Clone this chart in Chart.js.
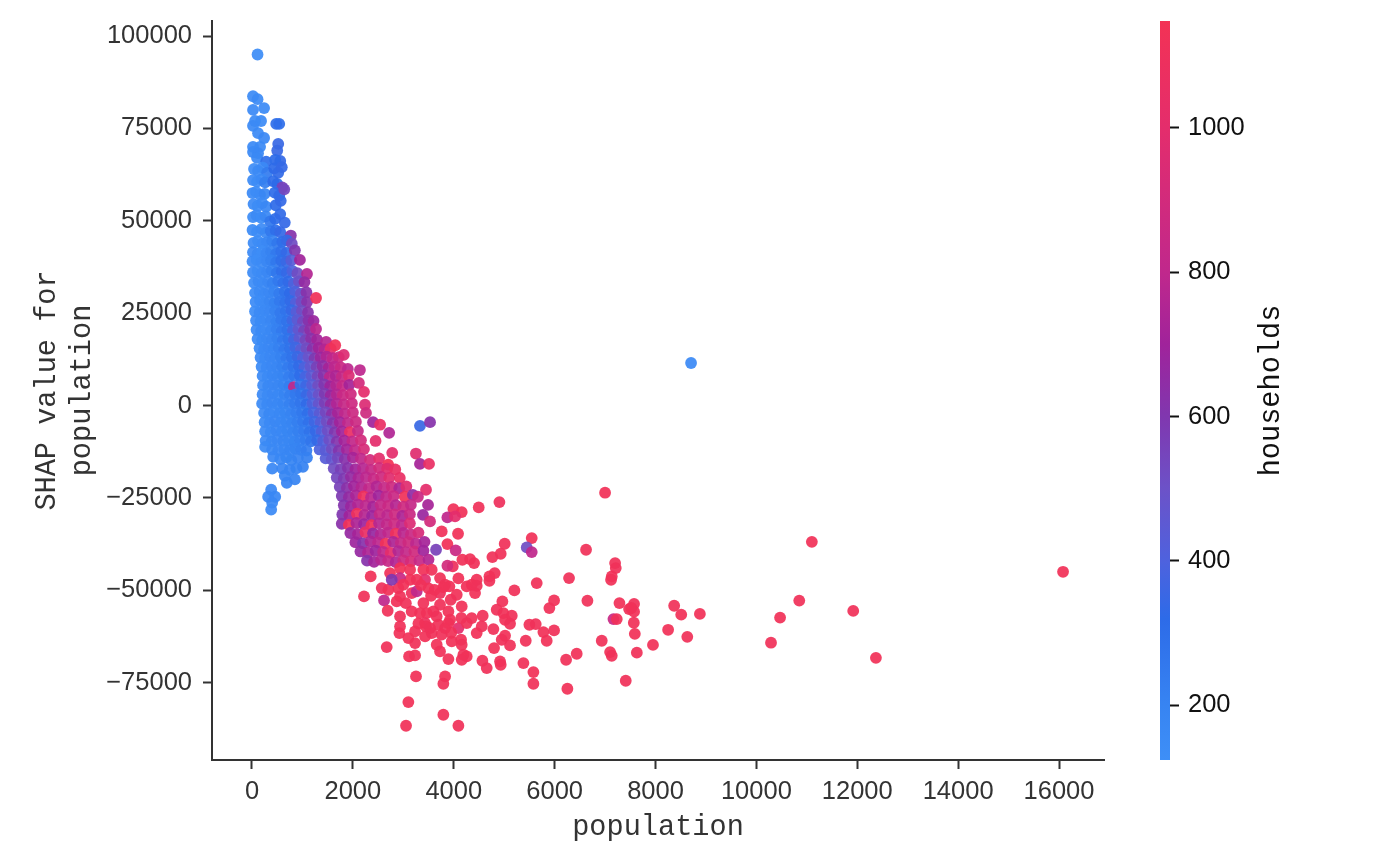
<!DOCTYPE html>
<html>
<head>
<meta charset="utf-8">
<title>SHAP dependence plot</title>
<script src="https://cdn.jsdelivr.net/npm/chart.js@4/dist/chart.umd.min.js"></script>
<style>
body{margin:0;background:#fff;overflow:hidden}
#wrap{position:relative;width:1376px;height:866px}
canvas{position:absolute;top:0;filter:blur(0.5px)}
#myChart{left:0}
#colorBar{left:1130px}
</style>
</head>
<body>
<div id="wrap">
<canvas id="myChart" width="1130" height="866"></canvas>
<canvas id="colorBar" width="246" height="866"></canvas>
</div>
<script>
const xTicks = [0,2000,4000,6000,8000,10000,12000,14000,16000]
const yTicks = [-75000,-50000,-25000,0,25000,50000,75000,100000]
const barTicks = [200,400,600,800,1000]
const barRange = [124,1148]

// each line below is one read-off row, the three arrays line up row by row
const population = [
110,20,110,20,240,180,60,20,480,540,120,240,520,20,160,500,20,120,560,460,100,280,
40,120,210,300,440,520,590,
20,100,190,260,420,500,600,
10,80,160,250,450,540,640,
30,110,200,280,470,570,
20,90,180,270,360,460,560,650,
10,100,190,280,370,470,560,770,
30,120,210,300,400,500,600,690,790,
20,110,200,290,380,480,580,680,850,
10,90,190,290,380,480,580,680,780,950,
20,110,200,300,390,490,590,690,800,900,1090,
40,130,220,320,410,520,620,720,830,930,1040,
60,150,240,340,440,540,650,750,860,970,1080,
70,160,250,350,450,550,660,760,870,980,1090,1270,
60,150,250,350,460,560,670,780,880,990,1110,
80,170,270,370,480,580,690,800,900,1010,1120,1220,
90,180,280,380,490,590,700,810,920,1030,1150,1270,
110,200,300,400,500,610,720,830,940,1060,1170,1290,1470,
150,240,330,430,530,640,750,860,970,1080,1200,1320,1440,1560,1650,
170,260,360,460,570,680,790,900,1010,1120,1240,1360,1480,1600,1720,1820,
190,290,390,490,600,710,820,930,1040,1160,1280,1400,1520,1640,1760,1900,2140,
210,310,410,510,620,730,840,950,1060,1180,1300,1420,1540,1660,1780,1920,
220,320,420,520,630,740,830,960,1070,1190,1310,1430,1550,1670,1790,1930,2120,
210,310,410,520,640,750,860,970,1080,1200,1320,1440,1560,1680,1800,1960,2220,
200,300,400,510,620,740,850,960,1080,1200,1320,1440,1560,1680,1820,1980,2240,
240,340,440,550,660,770,880,990,1100,1220,1340,1460,1580,1700,1840,2000,2260,
250,350,460,570,680,790,900,1010,1120,1240,1360,1480,1600,1740,1900,2060,2400,
260,370,480,590,700,810,920,1030,1140,1260,1380,1500,1640,1780,1940,2100,2720,
270,390,500,620,730,840,950,1060,1170,1290,1410,1530,1680,1830,1990,2160,2450,
260,400,520,640,750,860,970,1080,1340,1460,1580,1720,1880,2040,2220,2780,
420,560,680,780,910,1090,1460,1580,1700,1840,2000,2160,2340,2520,2700,
400,600,750,880,1010,1620,1760,1900,2050,2200,2360,2520,2680,2840,
650,690,850,1680,1820,1960,2110,2260,2410,2560,2720,2930,
380,400,380,320,460,
1740,1880,2020,2170,2320,2470,2620,2770,2920,3060,3450,
1780,1920,2060,2210,2360,2510,2660,2810,3030,3190,3290,
1820,1960,2100,2250,2400,2550,2700,2850,3000,3150,3490,
1790,1930,2080,2230,2380,2530,2680,2830,2980,3130,3390,
1780,1920,2070,2220,2370,2520,2670,2820,2970,3130,
1950,2100,2250,2400,2550,2700,2850,3000,3150,3300,
2050,2200,2350,2500,2650,2800,2950,3100,3250,3420,
2150,2300,2450,2600,2750,2900,3050,3220,3400,
2280,2420,2560,2700,2850,3000,3150,3320,3500,
7000,4905,4495,3993,4158,3874,4026,5546,5010,5447,5546,6623,
4766,4931,4085,3874,4039,3649,3761,3530,4323,4403,4171,3980,
3874,7199,7212,7133,7119,6286,5645,4812,4707,4707,4092,4455,
4356,4257,4422,4455,5202,3827,3913,3728,4059,3940,4158,4964,
4852,4984,5150,5017,5116,5989,5896,6650,7285,7476,7166,7232,
4574,4356,4555,4786,5500,5625,5777,5989,5843,5427,5017,4951,
5116,4799,6934,7100,7132,6438,6227,5381,5579,4918,4931,4568,
4654,3894,4191,4257,4158,3662,3728,4145,4158,3960,2671,3114,
3233,3828,3794,3252,5579,6253,7410,3100,3794,3054,4092,16080,
12370,11920,11100,10850,10470,10290,8705,8250,8370,8510,8630,8880,
7950,7630,7590,7570,7575,7575,7520,3330,3530,3250,3330,3510,
2353,2221,2572,2704,2618,2690,2902,2935,2869,3166,2935,3166,
3398,3332,3728,3894,3596,3464,3431,3662,3927,3695,3530,3828,
4092,2935,2922,3233,3100,3233,3431,3563,3894,4257,4455,2737,
2935,3134,3398,3563,3134,3431,3266,2935,2770,3728,3795,3266,
2540,3500,3620,3350,3000,3050,3550,3450,3300,3760,3950,4150
]
const shapValue = [
95000,83700,82900,80000,80500,77000,77000,75700,76200,76200,73700,72400,70800,70000,70000,69000,68600,68300,66200,66500,67000,66000,
64000,63500,64400,63000,64200,63000,64500,
61000,60600,61200,60400,60700,60000,59000,
57500,57800,57000,57300,57600,56800,58500,
54500,54000,54800,53800,54200,55400,
51000,51500,50800,51200,49800,50500,51800,49500,
47500,47000,47800,46800,47200,47400,46900,46000,
44000,44500,43800,44200,44600,43900,44300,44700,43800,
41500,41000,41800,41200,41600,41100,41700,41300,42000,
39000,39400,38700,39100,39300,38800,39200,38900,39300,39400,
36000,36400,35800,36200,36500,35900,36300,36000,36400,35800,35600,
33200,33600,33000,33500,33100,33700,33200,33500,33000,33600,33400,
30500,30800,30200,30600,30900,30300,30700,30400,30800,30300,30600,
28000,28300,27700,28100,27800,28200,27900,28300,27800,28100,28000,29100,
25500,25200,25700,25300,25600,25100,25500,25800,25300,25600,25200,
23000,22800,23200,22900,22700,23100,22800,23000,23200,22700,23000,22900,
20500,20200,20700,20400,20600,20100,20500,20300,20600,20200,20500,20700,
18000,17700,18200,17900,18100,17600,18000,17800,18200,17700,18100,17800,17200,
15500,15200,15700,15300,15600,15100,15400,15700,15200,15500,15300,15600,15200,15400,16300,
13000,12800,13200,12900,13100,12700,13000,13200,12800,13100,12700,13000,13200,12800,13100,13700,
10500,10300,10700,10400,10600,10200,10500,10700,10300,10600,10400,10700,10200,10500,10300,9900,9600,
8000,7800,8200,7900,8100,7700,8000,8200,7800,8100,7900,8200,7700,8000,7800,8100,
5500,5300,5700,5400,5600,5200,5000,5700,5300,5600,5400,5700,5200,5500,5300,5600,6100,
3000,2800,3200,2900,3100,2700,3000,3200,2800,3100,2900,3200,2700,3000,2800,3100,3700,
500,300,700,400,600,200,500,700,300,600,400,700,200,500,300,600,200,
-2000,-2300,-1800,-2100,-1900,-2400,-2000,-1800,-2300,-1900,-2200,-1800,-2400,-2000,-2200,-1900,-2000,
-4500,-4700,-4300,-4600,-4400,-4800,-4500,-4300,-4700,-4400,-4600,-4300,-4800,-4500,-4700,-4400,-4500,
-7000,-7200,-6800,-7100,-6900,-7300,-7000,-6800,-7200,-6900,-7100,-6800,-7300,-7000,-7200,-6900,-7400,
-9500,-9700,-9300,-9600,-9400,-9800,-9500,-9300,-9700,-9400,-9600,-9300,-9800,-9500,-9700,-9400,-9600,
-11200,-11900,-12200,-11800,-12100,-11700,-12000,-12200,-11900,-12100,-11800,-12200,-11900,-12100,-11800,-12800,
-13900,-14500,-14000,-14800,-14100,-14100,-14300,-14600,-14200,-14500,-14100,-14400,-14700,-14300,-16000,
-17100,-17000,-17400,-17000,-16600,-17000,-17300,-16900,-17200,-17000,-17400,-16900,-17100,-17300,
-19000,-20900,-20000,-19500,-19800,-19300,-19600,-19400,-19800,-19300,-19600,-19600,
-22800,-26300,-28200,-24700,-24700,
-22000,-22300,-21800,-22100,-22400,-21900,-22200,-22000,-22400,-21900,-22800,
-24500,-24800,-24300,-24600,-24900,-24400,-24700,-24500,-24700,-24200,-24700,
-27000,-27300,-26800,-27100,-27400,-26900,-27200,-27000,-27400,-26900,-26900,
-29500,-29800,-29300,-29600,-29900,-29400,-29700,-29500,-29900,-29400,-29600,
-32000,-32300,-31800,-32100,-32400,-31900,-32200,-32000,-32400,-31900,
-34500,-34800,-34300,-34600,-34900,-34400,-34700,-34500,-34900,-34400,
-37000,-37300,-36800,-37100,-37400,-36900,-37200,-37000,-37400,-36900,
-39500,-39800,-39300,-39600,-39900,-39400,-39700,-39500,-39300,
-42000,-42300,-41800,-42100,-42400,-41900,-42200,-42000,-41700,
-23600,-26140,-27590,-28040,-28850,-30290,-30020,-35890,-37420,-38400,-39670,-39040,
-41030,-40120,-34710,-37500,-39220,-39040,-34080,-31380,-41570,-42650,-41750,-43550,
-43370,-42650,-44000,-46260,-47160,-46700,-48060,-45360,-46260,-47430,-46800,-47160,
-48510,-48960,-50770,-48780,-50050,-48510,-48960,-50770,-51220,-52570,-54380,-53020,
-55280,-56180,-56900,-57980,-59070,-52750,-54830,-52840,-53470,-55100,-57800,-57800,
-56900,-57530,-59790,-60510,-59340,-59160,-61320,-60870,-63670,-63670,-62310,-63400,
-64930,-65650,-63670,-66730,-67730,-67180,-68810,-69710,-72150,-69260,-70160,-69080,
-71060,-68630,-67460,-67910,-68810,-64750,-66550,-63400,-64750,-63850,-65380,-67910,
-67630,-73320,-75300,-73320,-75300,-76660,-74490,-80260,-83690,-86670,-86670,-45000,
-68300,-55600,-36900,-52800,-57400,-64200,11500,-60700,-54200,-56600,-62600,-56400,
-64800,-66900,-61800,-58800,-55800,-53700,-54800,-5500,-4500,-13000,-15800,-15800,
-46260,-51670,-49420,-49870,-52750,-55550,-49420,-51670,-53020,-50770,-57080,-55730,
-53470,-56180,-53920,-55730,-55730,-56180,-58890,-57080,-57980,-59340,-60240,-60240,
-60240,-59790,-61600,-61140,-62950,-64300,-62490,-61600,-58890,-58890,-61600,-45360,
-44000,-44450,-44450,-44450,-47160,-47160,-47160,-46710,-47160,-46710,-49140,-50320,
-5200,-49500,-49900,-48600,-48500,-53500,-51500,-59800,-59000,-62000,-61500,-57500
]
const households = [
140,150,150,160,150,150,155,160,300,300,160,170,350,160,160,350,160,170,340,320,165,300,
140,150,160,240,320,330,340,
150,140,160,220,310,320,560,
160,145,150,180,310,330,540,
150,140,150,170,320,340,
140,150,145,170,260,310,330,340,
155,140,150,165,250,300,340,620,
150,140,150,170,210,260,300,340,520,
160,150,140,170,210,250,290,340,600,
150,140,150,170,210,260,300,350,430,700,
150,140,150,170,210,260,300,340,400,520,760,
140,150,150,170,210,250,290,330,400,500,660,
145,150,160,170,200,240,280,320,400,490,620,
150,145,150,180,210,250,280,330,420,520,620,1120,
140,150,160,170,210,250,280,340,430,520,620,
150,155,160,180,210,250,280,360,450,540,620,680,
150,160,150,175,215,250,280,380,470,560,640,780,
150,155,165,180,210,250,280,370,460,550,630,700,770,
150,160,170,185,215,250,280,360,440,520,620,700,760,1000,1130,
160,150,170,180,210,250,280,350,420,490,590,680,750,800,860,960,
150,160,170,180,210,240,270,330,400,470,560,640,720,790,850,790,790,
160,150,175,180,200,230,260,310,380,450,540,620,780,740,830,950,
150,165,170,180,200,230,800,290,360,430,520,600,690,760,840,720,900,
160,150,170,175,200,225,250,280,350,420,500,590,680,760,850,880,1000,
150,160,170,175,190,215,240,270,330,400,480,570,660,750,830,870,950,
150,165,160,175,185,205,230,260,300,380,450,540,630,720,800,860,880,
155,160,170,175,185,200,225,250,290,360,430,520,610,700,800,860,700,
150,155,170,175,185,200,220,240,280,340,420,510,600,700,1050,830,750,
150,165,170,180,180,195,215,235,270,340,410,510,610,710,810,900,1000,
155,165,170,175,190,200,215,230,400,440,520,610,710,810,920,1000,
170,175,185,195,205,215,430,470,540,620,720,800,900,1000,1150,
170,180,190,200,210,520,570,620,700,770,830,900,980,1060,
185,190,200,540,590,660,730,790,840,880,980,1050,
170,165,160,170,175,
560,630,700,760,810,760,830,880,740,980,1000,
590,660,730,1100,790,700,800,850,1120,650,850,
610,680,750,790,720,820,850,770,880,830,720,
600,700,1100,770,690,830,790,870,740,850,680,
630,1130,740,690,1120,770,810,860,790,950,
670,720,1050,670,760,800,1100,780,850,920,
690,620,740,790,1120,740,830,880,790,720,
670,740,690,800,1000,760,820,890,700,
620,710,770,840,750,860,920,840,760,
1130,1100,1120,1120,1120,800,1000,1130,1120,520,800,1120,
1120,1120,1130,1130,850,560,1120,900,1120,1120,1120,1100,
900,1120,1120,1130,1130,1120,1120,1120,1130,1120,1130,1130,
1130,1130,1130,1120,1120,1120,1130,1100,1130,1120,1130,1120,
1120,1130,1120,1130,1120,1130,1120,1120,1130,1120,850,1120,
1120,1130,1120,1120,1130,1120,1130,1120,1130,1120,1130,1120,
1120,1130,1120,1130,1120,1130,1120,1120,1130,1120,1130,1120,
1120,1130,1120,1130,1120,1130,1120,1130,1120,1130,1120,1130,
1120,1130,1120,1130,1120,1130,1120,1130,1120,1130,1120,1130,
1130,1120,1130,1120,1130,1120,160,1130,1120,1130,1120,1130,
1130,1120,1130,1120,1130,1120,1130,350,620,980,720,1050,
1130,1120,1100,1130,800,1120,1130,1120,1130,1100,1120,1130,
1120,1130,1120,1130,1120,1130,1100,1120,1130,1120,1130,1120,
1000,1120,1130,1120,1130,1120,1130,1120,1130,1120,1130,1120,
1130,1120,1130,1120,1130,1000,1120,850,600,1120,1130,800,
1050,1120,1130,1120,1130,1120,1130,1120,1130,1120,1130,1120
]

// households -> colour
const colorValues = [124,200,320,400,500,600,700,800,1000,1148]
const colorRgb = [
[62,143,247],[55,132,242],[45,107,232],[78,98,222],[108,82,200],
[128,55,175],[160,35,155],[192,40,140],[228,45,108],[243,50,85]
]
function colorFor(v,alpha){
    let i = 0
    while(i<colorValues.length-2 && v>colorValues[i+1]) i++
    const t = Math.max(0,Math.min(1,(v-colorValues[i])/(colorValues[i+1]-colorValues[i])))
    const c = colorRgb[i].map((a,k)=>Math.round(a+(colorRgb[i+1][k]-a)*t))
    return `rgba(${c[0]},${c[1]},${c[2]},${alpha})`
}
const fmt = (v)=> v<0 ? '\u2212'+Math.abs(v) : String(v)

const n = Math.min(population.length,shapValue.length,households.length)
const points = []
const pointColors = []
for(let i=0;i<n;i++){
    points.push({x:population[i],y:shapValue[i]})
    pointColors.push(colorFor(households[i],0.93))
}

const tickFont = {family:'"Liberation Sans"',size:25.5}
const titleFont = {family:'"Liberation Mono"',size:28.6,lineHeight:1.22}
// keep the plot area where it is, tick labels must not push it in
const noPad = (s)=>{s.paddingTop = 0;s.paddingBottom = 0;s.paddingLeft = 0;s.paddingRight = 0}

new Chart(document.getElementById('myChart'),{
    type:'scatter',
    data:{datasets:[{
        data:points,
        backgroundColor:pointColors,
        pointRadius:5.9,
        pointBorderWidth:0,
        pointHoverRadius:5.9
    }]},
    options:{
        responsive:false,
        animation:false,
        layout:{autoPadding:false,padding:{top:21,right:26,left:0,bottom:0}},
        plugins:{legend:{display:false},tooltip:{enabled:false}},
        scales:{
            x:{
                min:-793,max:16892,
                afterBuildTicks:(s)=>{s.ticks = xTicks.map(v=>({value:v}))},
                afterFit:(s)=>{s.height = 106;noPad(s)},
                border:{color:'#333',width:2},
                grid:{drawOnChartArea:false,tickLength:9,tickColor:'#333',tickWidth:2},
                ticks:{color:'#333',font:tickFont,padding:8,maxRotation:0,autoSkip:false,callback:fmt},
                title:{display:true,text:'population',color:'#333',font:titleFont,padding:{top:0,bottom:21}}
            },
            y:{
                min:-95940,max:104060,
                afterBuildTicks:(s)=>{s.ticks = yTicks.map(v=>({value:v}))},
                afterFit:(s)=>{s.width = 212;noPad(s)},
                border:{color:'#333',width:2},
                grid:{drawOnChartArea:false,tickLength:9,tickColor:'#333',tickWidth:2},
                ticks:{color:'#333',font:tickFont,padding:11,autoSkip:false,callback:fmt},
                title:{display:true,text:['SHAP value for','population'],color:'#333',font:titleFont,padding:{top:30,bottom:0}}
            }
        }
    }
})

// colorbar is a single floating bar, the label reads upward so it gets its own plugin
const barLabel = {
    id:'barLabel',
    afterDraw(chart){
        const c = chart.ctx, a = chart.chartArea
        c.save()
        c.translate(141,(a.top+a.bottom)/2)
        c.rotate(-Math.PI/2)
        c.font = '28.6px "Liberation Mono"'
        c.fillStyle = '#111'
        c.textAlign = 'center'
        c.textBaseline = 'middle'
        c.fillText('households',0,0)
        c.restore()
    }
}
new Chart(document.getElementById('colorBar'),{
    type:'bar',
    plugins:[barLabel],
    data:{
        labels:['households'],
        datasets:[{
            data:[barRange],
            barPercentage:1,
            categoryPercentage:1,
            backgroundColor:(ctx)=>{
                const area = ctx.chart.chartArea
                if(!area) return '#888'
                const y = ctx.chart.scales.y
                const g = ctx.chart.ctx.createLinearGradient(0,y.getPixelForValue(barRange[0]),0,y.getPixelForValue(barRange[1]))
                colorValues.forEach((v)=>{
                    g.addColorStop((v-barRange[0])/(barRange[1]-barRange[0]),colorFor(v,1))
                })
                return g
            }
        }]
    },
    options:{
        responsive:false,
        animation:false,
        layout:{autoPadding:false,padding:{top:21,right:0,left:30,bottom:106}},
        plugins:{legend:{display:false},tooltip:{enabled:false}},
        scales:{
            x:{display:false},
            y:{
                position:'right',
                min:barRange[0],max:barRange[1],
                afterBuildTicks:(s)=>{s.ticks = barTicks.map(v=>({value:v}))},
                afterFit:(s)=>{s.width = 206;noPad(s)},
                border:{display:false},
                grid:{drawOnChartArea:false,tickLength:9,tickColor:'#111',tickWidth:2},
                ticks:{color:'#111',font:tickFont,padding:9,autoSkip:false,callback:fmt}
            }
        }
    }
})
</script>
</body>
</html>
